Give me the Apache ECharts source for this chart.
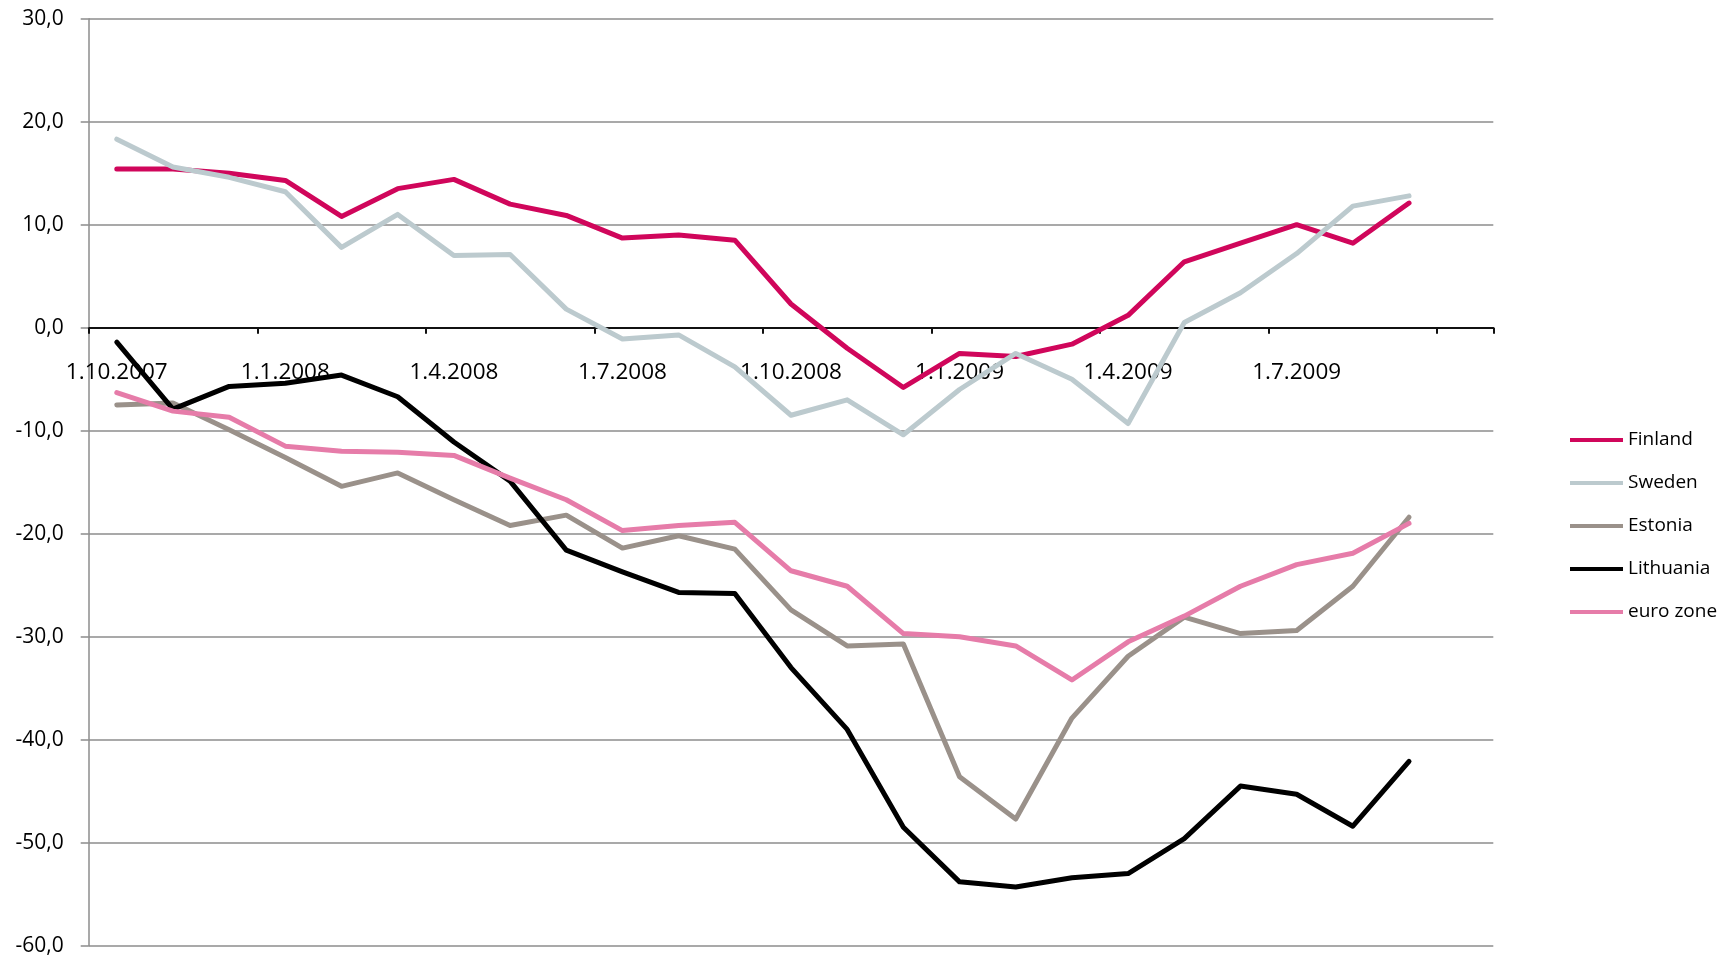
<!DOCTYPE html>
<html>
<head>
<meta charset="utf-8">
<title>Confidence indicators</title>
<script src="https://cdn.jsdelivr.net/npm/echarts@6/dist/echarts.min.js"></script>
<style>
  html, body { margin: 0; padding: 0; background: #ffffff; }
  #chart { width: 1735px; height: 959px; }
</style>
</head>
<body>
<div id="chart"></div>
<script>
// Monthly observations, Oct 2007 – Sep 2009 (last slot is an empty category)
const categories = [
  '1.10.2007', '1.11.2007', '1.12.2007',
  '1.1.2008', '1.2.2008', '1.3.2008',
  '1.4.2008', '1.5.2008', '1.6.2008',
  '1.7.2008', '1.8.2008', '1.9.2008',
  '1.10.2008', '1.11.2008', '1.12.2008',
  '1.1.2009', '1.2.2009', '1.3.2009',
  '1.4.2009', '1.5.2009', '1.6.2009',
  '1.7.2009', '1.8.2009', '1.9.2009',
  ''
];

const finland   = [15.4, 15.4, 15.0, 14.3, 10.8, 13.5, 14.4, 12.0, 10.9, 8.7, 9.0, 8.5, 2.3, -2.0, -5.8, -2.5, -2.8, -1.6, 1.2, 6.4, 8.2, 10.0, 8.2, 12.1];
const sweden    = [18.3, 15.6, 14.6, 13.2, 7.8, 11.0, 7.0, 7.1, 1.8, -1.1, -0.7, -3.8, -8.5, -7.0, -10.4, -6.0, -2.5, -5.0, -9.3, 0.5, 3.4, 7.2, 11.8, 12.8];
const estonia   = [-7.5, -7.3, -9.9, -12.6, -15.4, -14.1, -16.7, -19.2, -18.2, -21.4, -20.2, -21.5, -27.4, -30.9, -30.7, -43.6, -47.7, -37.9, -31.9, -28.1, -29.7, -29.4, -25.1, -18.4];
const lithuania = [-1.4, -7.9, -5.7, -5.4, -4.6, -6.7, -11.1, -14.9, -21.6, -23.7, -25.7, -25.8, -33.0, -39.0, -48.5, -53.8, -54.3, -53.4, -53.0, -49.6, -44.5, -45.3, -48.4, -42.1];
const euroZone  = [-6.3, -8.1, -8.7, -11.5, -12.0, -12.1, -12.4, -14.6, -16.7, -19.7, -19.2, -18.9, -23.6, -25.1, -29.7, -30.0, -30.9, -34.2, -30.5, -28.0, -25.1, -23.0, -21.9, -19.0];

const seriesNames  = ['Finland', 'Sweden', 'Estonia', 'Lithuania', 'euro zone'];
const seriesValues = [finland, sweden, estonia, lithuania, euroZone];
const seriesColors = ['#d0065b', '#bccace', '#9a918a', '#000000', '#e67ca9'];

const yTicks = { min: -60, max: 30, step: 10 };

const FONT = '"Open Sans", "Noto Sans", sans-serif';

// Plot frame
const W = 1735, H = 959;
const gridLeft = 88.7, gridRight = 241.7, gridTop = 18.7, gridBottom = 13.3;
const plotHeight = H - gridTop - gridBottom;
// distance from the bottom edge of the plot up to the zero line, where the time axis sits
const zeroLift = plotHeight * (0 - yTicks.min) / (yTicks.max - yTicks.min);

const chart = echarts.init(document.getElementById('chart'), null, { renderer: 'canvas' });

chart.setOption({
  animation: false,
  backgroundColor: '#ffffff',
  textStyle: { fontFamily: FONT, color: '#000000' },
  grid: {
    left: gridLeft,
    right: gridRight,
    top: gridTop,
    bottom: gridBottom,
    containLabel: false,
    outerBoundsMode: 'none'
  },
  legend: {
    orient: 'vertical',
    left: 1565,
    top: 424,
    icon: 'rect',
    itemWidth: 53,
    itemHeight: 4,
    itemGap: 21,
    data: seriesNames,
    textStyle: { fontFamily: FONT, fontSize: 19, color: '#000000', lineHeight: 22 }
  },
  xAxis: {
    type: 'category',
    data: categories,
    boundaryGap: true,
    position: 'bottom',
    offset: -zeroLift,
    axisLine: { onZero: false, lineStyle: { color: '#111111', width: 2 } },
    axisTick: { show: true, interval: 2, length: 6, lineStyle: { color: '#111111', width: 2 } },
    axisLabel: {
      show: true,
      interval: 2,
      margin: 33,
      fontFamily: FONT,
      fontSize: 22.5,
      color: '#000000'
    },
    splitLine: { show: false }
  },
  yAxis: {
    type: 'value',
    min: yTicks.min,
    max: yTicks.max,
    interval: yTicks.step,
    axisLine: { show: true, lineStyle: { color: '#8c8c8c', width: 1.5 } },
    axisTick: { show: true, length: 8, lineStyle: { color: '#8c8c8c', width: 1.5 } },
    axisLabel: {
      margin: 25,
      fontFamily: FONT,
      fontSize: 21,
      color: '#000000',
      formatter: v => v.toFixed(1).replace('.', ',')
    },
    splitLine: { show: true, lineStyle: { color: '#8c8c8c', width: 1.5 } }
  },
  series: seriesNames.map((name, k) => ({
    name: name,
    type: 'line',
    data: seriesValues[k],
    symbol: 'none',
    smooth: false,
    lineStyle: { color: seriesColors[k], width: 5, cap: 'round', join: 'round' },
    itemStyle: { color: seriesColors[k] }
  }))
});
</script>
</body>
</html>
